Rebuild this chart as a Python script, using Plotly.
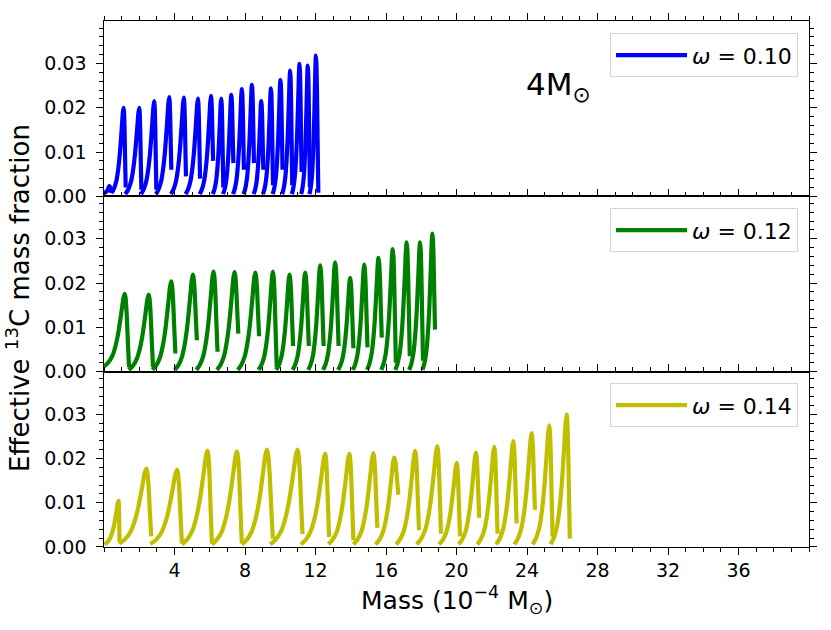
import plotly.graph_objects as go
from plotly.subplots import make_subplots

# ---------------- data ----------------
# omega = 0.10 (blue)
b_start_x = [0.00, 0.42, 1.21, 2.10, 2.95, 3.80, 4.63, 5.43, 6.17, 6.75, 7.32, 7.92, 8.49, 9.02, 9.57, 10.11, 10.66, 11.19, 11.66]
b_start_y = [0.0008, 0.0007, 0.0005, 0.0005, 0.0005, 0.0005, 0.0005, 0.0005, 0.0005, 0.0005, 0.0005, 0.0005, 0.0005, 0.0005, 0.0005, 0.0005, 0.0005, 0.0005, 0.0005]
b_peak_x = [0.30, 1.11, 2.00, 2.85, 3.70, 4.53, 5.33, 6.07, 6.65, 7.22, 7.82, 8.39, 8.92, 9.47, 10.01, 10.56, 11.09, 11.56, 12.02]
b_peak_y = [0.0023, 0.0200, 0.0200, 0.0215, 0.0224, 0.0223, 0.0221, 0.0227, 0.0221, 0.0229, 0.0242, 0.0252, 0.0215, 0.0244, 0.0263, 0.0284, 0.0299, 0.0295, 0.0318]
b_end_x = [0.42, 1.23, 2.12, 2.97, 3.82, 4.65, 5.45, 6.19, 6.77, 7.34, 7.94, 8.51, 9.04, 9.59, 10.13, 10.68, 11.21, 11.68, 12.16]
b_end_y = [0.0008, 0.0020, 0.0015, 0.0015, 0.0060, 0.0045, 0.0040, 0.0080, 0.0020, 0.0075, 0.0060, 0.0075, 0.0060, 0.0025, 0.0060, 0.0025, 0.0055, 0.0020, 0.0008]

# omega = 0.12 (green)
g_start_x = [0.00, 1.40, 2.75, 4.02, 5.24, 6.41, 7.59, 8.77, 9.77, 10.70, 11.59, 12.43, 13.28, 14.12, 14.92, 15.73, 16.53, 17.32, 18.07]
g_start_y = [0.0012, 0.0004, 0.0004, 0.0004, 0.0004, 0.0004, 0.0004, 0.0004, 0.0004, 0.0004, 0.0004, 0.0004, 0.0004, 0.0004, 0.0004, 0.0004, 0.0004, 0.0004, 0.0004]
g_peak_x = [1.17, 2.53, 3.81, 5.04, 6.21, 7.40, 8.58, 9.58, 10.52, 11.41, 12.26, 13.11, 13.96, 14.76, 15.57, 16.38, 17.17, 17.93, 18.63]
g_peak_y = [0.0176, 0.0174, 0.0204, 0.0219, 0.0226, 0.0225, 0.0224, 0.0226, 0.0219, 0.0224, 0.0240, 0.0247, 0.0212, 0.0242, 0.0257, 0.0277, 0.0292, 0.0292, 0.0312]
g_end_x = [1.42, 2.78, 4.05, 5.27, 6.44, 7.62, 8.80, 9.80, 10.73, 11.62, 12.46, 13.31, 14.15, 14.95, 15.76, 16.56, 17.35, 18.10, 18.78]
g_end_y = [0.0010, 0.0010, 0.0041, 0.0071, 0.0045, 0.0086, 0.0080, 0.0010, 0.0058, 0.0058, 0.0058, 0.0058, 0.0053, 0.0055, 0.0077, 0.0020, 0.0035, 0.0025, 0.0095]

# omega = 0.14 (yellow)
y_start_x = [0.02, 0.85, 2.62, 4.42, 6.12, 7.82, 9.43, 11.17, 12.73, 14.15, 15.40, 16.57, 17.74, 19.01, 20.12, 21.18, 22.24, 23.28, 24.32, 25.34]
y_start_y = [0.0006, 0.0008, 0.0007, 0.0006, 0.0006, 0.0006, 0.0006, 0.0006, 0.0006, 0.0006, 0.0006, 0.0006, 0.0006, 0.0006, 0.0006, 0.0006, 0.0006, 0.0006, 0.0006, 0.0006]
y_peak_x = [0.83, 2.40, 4.14, 5.87, 7.54, 9.24, 10.98, 12.55, 13.92, 15.28, 16.46, 17.65, 18.91, 20.01, 21.10, 22.14, 23.22, 24.26, 25.26, 26.25]
y_peak_y = [0.0104, 0.0177, 0.0175, 0.0218, 0.0216, 0.0220, 0.0220, 0.0211, 0.0211, 0.0212, 0.0202, 0.0217, 0.0228, 0.0190, 0.0213, 0.0226, 0.0239, 0.0257, 0.0275, 0.0299]
y_end_x = [0.88, 2.68, 4.42, 6.12, 7.82, 9.58, 11.26, 12.77, 14.15, 15.51, 16.70, 17.87, 19.12, 20.20, 21.29, 22.33, 23.41, 24.45, 25.45, 26.43]
y_end_y = [0.0011, 0.0024, 0.0008, 0.0008, 0.0008, 0.0019, 0.0029, 0.0023, 0.0015, 0.0043, 0.0118, 0.0038, 0.0030, 0.0024, 0.0066, 0.0030, 0.0053, 0.0084, 0.0023, 0.0019]

# typical pulse profile (fractions of rise / fall)
rise_u = [0.0, 0.20, 0.40, 0.55, 0.68, 0.78, 0.87, 0.94, 1.0]
rise_v = [0.0, 0.05, 0.14, 0.27, 0.44, 0.62, 0.80, 0.94, 1.0]
fall_f = [0.2, 0.45, 0.7, 1.0]
fall_w = [0.05, 0.25, 0.60, 1.0]

labels = ["<i>ω</i> = 0.10", "<i>ω</i> = 0.12", "<i>ω</i> = 0.14"]
colors = ["#0000ff", "#008000", "#bfbf00"]
x_tick_vals = [4, 8, 12, 16, 20, 24, 28, 32, 36]
y_tick_vals = [0.00, 0.01, 0.02, 0.03]


def build(sx, sy, px, py, ex, ey):
    xs, ys = [], []
    for i in range(len(px)):
        for u, v in zip(rise_u, rise_v):
            xs.append(sx[i] + u * (px[i] - sx[i]))
            ys.append(sy[i] + v * (py[i] - sy[i]))
        for f, w in zip(fall_f, fall_w):
            xs.append(px[i] + f * (ex[i] - px[i]))
            ys.append(py[i] - w * (py[i] - ey[i]))
        xs.append(None)
        ys.append(None)
    return xs, ys


series = [
    (b_start_x, b_start_y, b_peak_x, b_peak_y, b_end_x, b_end_y),
    (g_start_x, g_start_y, g_peak_x, g_peak_y, g_end_x, g_end_y),
    (y_start_x, y_start_y, y_peak_x, y_peak_y, y_end_x, y_end_y),
]

FONT = "DejaVu Sans"
fig = make_subplots(rows=3, cols=1, shared_xaxes=True, vertical_spacing=0)

legend_names = ["legend", "legend2", "legend3"]
for k, s in enumerate(series):
    xs, ys = build(*s)
    fig.add_trace(
        go.Scatter(
            x=xs, y=ys, mode="lines", name=labels[k],
            line=dict(color=colors[k], width=4.2, shape="spline", smoothing=0.8),
            legend=legend_names[k], showlegend=True,
        ),
        row=k + 1, col=1,
    )

axis_common = dict(
    showline=True, linecolor="black", linewidth=1.3,
    ticks="outside", ticklen=6.5, tickwidth=1.2, tickcolor="black",
    showgrid=False, zeroline=False,
)

for r in range(1, 4):
    xa = dict(axis_common)
    xa.update(
        range=[0, 40], tickmode="array", tickvals=x_tick_vals,
        minor=dict(tick0=0, dtick=1, ticks="outside", ticklen=3.5, tickwidth=1.1, tickcolor="black"),
        tickfont=dict(family=FONT, size=19, color="black"),
    )
    if r < 3:
        xa.update(side="top", mirror=True, showticklabels=False)
    else:
        xa.update(side="bottom", mirror="ticks", showticklabels=True)
    fig.update_xaxes(row=r, col=1, **xa)

    ya = dict(axis_common)
    ya.update(
        range=[0, 0.0396], tickmode="array", tickvals=y_tick_vals, tickformat=".2f",
        mirror="ticks", ticklabelstandoff=6,
        minor=dict(tick0=0, dtick=0.002, ticks="outside", ticklen=3.5, tickwidth=1.1, tickcolor="black"),
        tickfont=dict(family=FONT, size=19, color="black"),
    )
    fig.update_yaxes(row=r, col=1, **ya)

legend_style = dict(
    xanchor="right", yanchor="top", x=0.9844,
    bgcolor="white", bordercolor="#d4d4d4", borderwidth=1,
    font=dict(family=FONT, size=22, color="black"),
    itemwidth=71, tracegroupgap=0,
)

fig.update_layout(
    width=831, height=630,
    margin=dict(l=104, r=22, t=21, b=83),
    plot_bgcolor="white", paper_bgcolor="white",
    font=dict(family=FONT, color="black"),
    legend=dict(legend_style, y=0.9766),
    legend2=dict(legend_style, y=0.644),
    legend3=dict(legend_style, y=0.311),
    annotations=[
        dict(text="4M<sub>⊙</sub>", x=0.644, y=0.876, xref="paper", yref="paper",
             showarrow=False, xanchor="center", yanchor="middle",
             font=dict(family=FONT, size=31, color="black")),
        dict(text="Mass (10<sup>−4</sup> M<sub>⊙</sub>)", x=0.5, y=-0.101, xref="paper", yref="paper",
             showarrow=False, xanchor="center", yanchor="middle",
             font=dict(family=FONT, size=25, color="black")),
        dict(text="Effective <sup>13</sup>C mass fraction", x=-0.121, y=0.473, xref="paper", yref="paper",
             showarrow=False, xanchor="center", yanchor="middle", textangle=-90,
             font=dict(family=FONT, size=26, color="black")),
    ],
)

fig.write_html("out.html", config={"displayModeBar": False},
               post_script="document.body.style.margin='0px';document.body.style.overflow='hidden';")
